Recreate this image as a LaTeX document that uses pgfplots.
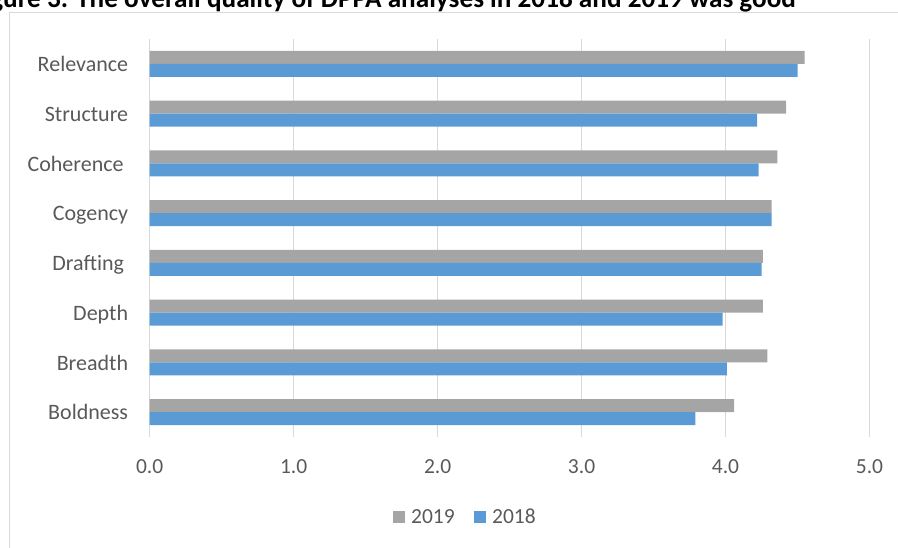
\documentclass[border=0pt]{standalone}
\usepackage{pgfplots}
\pgfplotsset{compat=1.18}
\usepackage{fontspec}
\setmainfont{Carlito}
\definecolor{bgray}{HTML}{A5A5A5}
\definecolor{bblue}{HTML}{5B9BD5}
\definecolor{gridc}{HTML}{D9D9D9}
\definecolor{txt}{HTML}{595959}
\begin{document}
\begin{tikzpicture}[x=1pt,y=1pt]
\useasboundingbox (0,0) rectangle (898,-547);
\clip (0,0) rectangle (898,-547);
\draw[gridc, line width=1pt] (9,-12.5) rectangle (910,-560);
\node[anchor=base east, inner sep=0, font=\fontsize{27.2}{30}\selectfont\bfseries] at (796,-7.3) {Figure 3. The overall quality of DPPA analyses in 2018 and 2019 was good};
\begin{axis}[
  at={(149.7pt,-437pt)}, anchor=south west,
  scale only axis, width=719.8pt, height=398pt,
  xbar, bar width=13pt,
  xmin=0, xmax=5, ymin=0.5, ymax=8.5,
  xtick={0,1,2,3,4,5}, xticklabels={0.0,1.0,2.0,3.0,4.0,5.0},
  ytick={1,2,3,4,5,6,7,8},
  yticklabels={Boldness,Breadth,Depth,Drafting\kern4pt,Cogency,Coherence\kern4.5pt,Structure,Relevance},
  xmajorgrids, grid style={gridc, line width=1pt},
  axis y line*=left, axis x line*=bottom,
  x axis line style={draw=none}, y axis line style={gridc, line width=1pt},
  major tick length=0, tick style={draw=none},
  /pgf/number format/assume math mode=true,
  xticklabel style={anchor=base, yshift=-36.3pt, font=\fontsize{21.5}{24}\selectfont, text=txt},
  yticklabel style={anchor=base east, inner sep=0pt, xshift=-21.4pt, yshift=-7.8pt, font=\fontsize{22}{26}\selectfont, text=txt},
  legend style={at={(0.437,-0.2)}, anchor=center, draw=none, fill=none, legend columns=2,
    font=\fontsize{21.5}{24}\selectfont, text=txt,
    nodes={inner sep=0pt, anchor=base west},
    /tikz/every odd column/.append style={column sep=6pt},
    /tikz/every even column/.append style={column sep=19pt}},
  legend image code/.code={\fill[#1] (0pt,0pt) rectangle (12.4pt,12.4pt);},
]
\addplot[fill=bgray, draw=none, bar shift=6.5pt] coordinates {(4.06,1) (4.29,2) (4.26,3) (4.26,4) (4.32,5) (4.36,6) (4.42,7) (4.55,8)};
\addplot[fill=bblue, draw=none, bar shift=-6.5pt] coordinates {(3.79,1) (4.01,2) (3.98,3) (4.25,4) (4.32,5) (4.23,6) (4.22,7) (4.50,8)};
\legend{2019,2018}
\end{axis}
\end{tikzpicture}
\end{document}
